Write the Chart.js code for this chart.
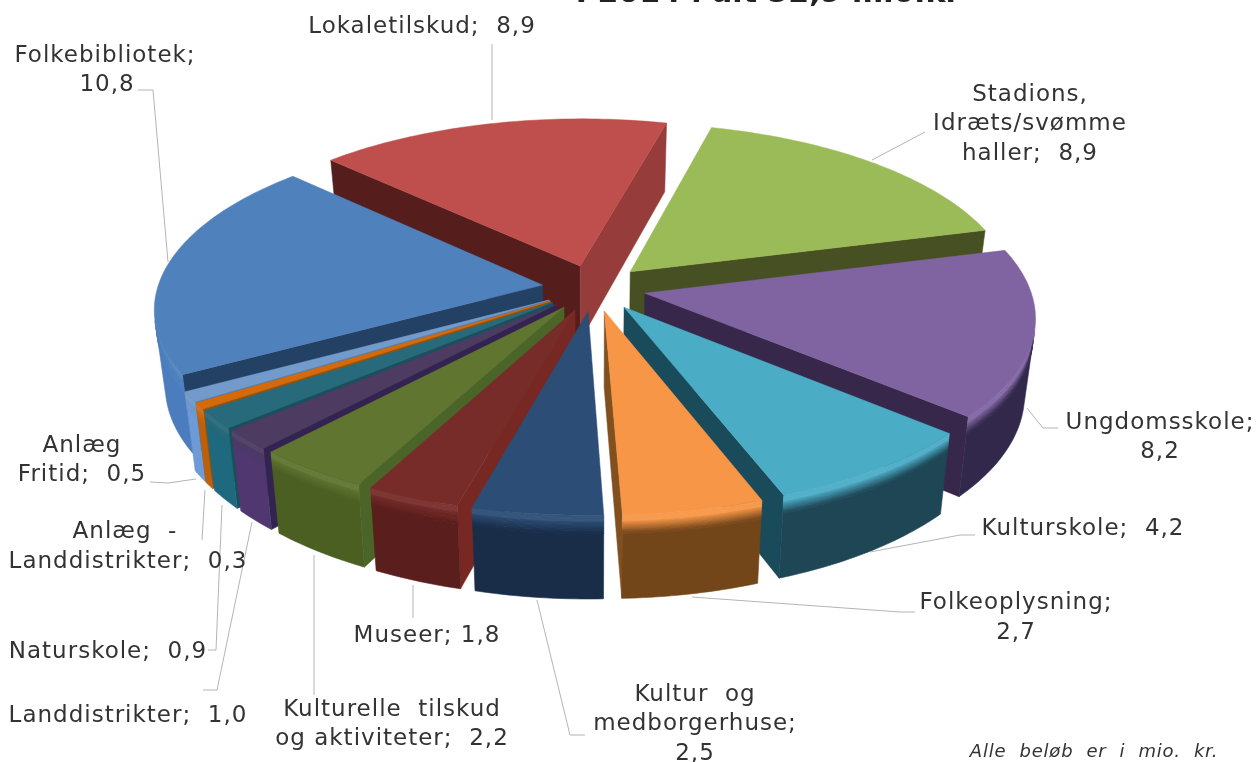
<!DOCTYPE html>
<html><head><meta charset="utf-8">
<script src="https://cdn.jsdelivr.net/npm/chart.js@4"></script>
<style>html,body{margin:0;padding:0;background:#fff;overflow:hidden}canvas{display:block;filter:blur(0.4px)}</style>
</head><body><canvas id="c" width="1259" height="762"></canvas>
<script>
const categories = ["Lokaletilskud","Stadions, Idræts/svømme haller","Ungdomsskole","Kulturskole","Folkeoplysning","Kultur og medborgerhuse","Museer","Kulturelle tilskud og aktiviteter","Landdistrikter","Naturskole","Anlæg - Landdistrikter","Anlæg Fritid","Folkebibliotek"];
const values = [8.9,8.9,8.2,4.2,2.7,2.5,1.8,2.2,1.0,0.9,0.3,0.5,10.8];
const topColors = ["#BE4F4C","#9BBB59","#8064A2","#4BACC6","#F79646","#2C4D75","#772C2A","#5F7530","#4D3B62","#276A7C","#D56A0A","#729ACA","#4F81BD"];
const outerColors = ["#96403C","#4A5A25","#32284B","#1E4655","#73461A","#192D48","#5A1E1C","#4B5F23","#503770","#1E697D","#BE5F0A","#6E9BD7","#4B7DBE"];
const startWalls = ["#551E1C","#4A5A25","#32284B","#1E4655","#73461A","#192D48","#782823","#4B6428","#322350","#19505F","#965008","#5078AA","#234164"];
const endWalls = ["#963C3A","#465023","#37284B","#194B5A","#82501E","#192D48","#5A1E1C","#4B5F23","#322350","#19505F","#965008","#5078AA","#234164"];
const labelLines = [
  {t:"Lokaletilskud;  8,9",x:422,y:27},
  {t:"Folkebibliotek;",x:105,y:56},{t:"10,8",x:107,y:85},
  {t:"Stadions,",x:1030,y:95},{t:"Idræts/svømme",x:1030,y:124},{t:"haller;  8,9",x:1030,y:154},
  {t:"Ungdomsskole;",x:1160,y:423},{t:"8,2",x:1160,y:452},
  {t:"Kulturskole;  4,2",x:1083,y:529},
  {t:"Folkeoplysning;",x:1016,y:603},{t:"2,7",x:1016,y:633},
  {t:"Kultur  og",x:695,y:695},{t:"medborgerhuse;",x:695,y:724},{t:"2,5",x:695,y:754},
  {t:"Museer; 1,8",x:427,y:636},
  {t:"Kulturelle  tilskud",x:392,y:710},{t:"og aktiviteter;  2,2",x:392,y:739},
  {t:"Landdistrikter;  1,0",x:128,y:716},
  {t:"Naturskole;  0,9",x:108,y:652},
  {t:"Anlæg  -",x:125,y:532},{t:"Landdistrikter;  0,3",x:128,y:562},
  {t:"Anlæg",x:82,y:446},{t:"Fritid;  0,5",x:82,y:475}
];
const leaders = [
  [[492,44],[492,120]],
  [[153,90],[138,90]],[[153,90],[168,262]],
  [[925,132],[872,160]],
  [[1058,428],[1043,428],[1027,408]],
  [[975,535],[960,535],[870,552]],
  [[915,612],[900,612],[692,597]],
  [[585,735],[570,735],[537,600]],
  [[413,618],[413,585]],
  [[314,695],[314,555]],
  [[203,690],[217,690],[252,522]],
  [[208,650],[216,650],[222,505]],
  [[202,540],[205,490]],
  [[150,482],[168,483],[196,479]]
];
const titleText = "I 2014 i alt 52,9 mio.kr";
const footnote = "Alle  beløb  er  i  mio.  kr.";

const view = {cx:594, cy:288, R:385, explode:52, k:0.445, p:0.128, botX:0.975, botY:1.038, drop:75};
function project(X,Y){
  const s = 1/(1 - view.p*Y/view.R);
  return [view.cx + X*s, view.cy + view.k*Y*s];
}
function below(pt,t=1){
  return [view.cx+(pt[0]-view.cx)*(1+(view.botX-1)*t), view.cy+(pt[1]-view.cy)*(1+(view.botY-1)*t)+view.drop*t];
}
function area(q){let a=0;for(let i=0;i<q.length;i++){const u=q[i],v=q[(i+1)%q.length];a+=u[0]*v[1]-v[0]*u[1];}return a;}
function poly(ctx,q){ctx.beginPath();q.forEach((p,i)=>i?ctx.lineTo(p[0],p[1]):ctx.moveTo(p[0],p[1]));ctx.closePath();}
function rgb(h){return [parseInt(h.slice(1,3),16),parseInt(h.slice(3,5),16),parseInt(h.slice(5,7),16)];}
function mix(a,b,t){const A=rgb(a),B=rgb(b);return `rgb(${A.map((v,i)=>Math.round(v+(B[i]-v)*t)).join(",")})`;}
function rimColor(i,t){
  if(t<.07) return mix(topColors[i],"#ffffff",.05);
  return mix(topColors[i],outerColors[i],Math.min(1,(t-.07)/.15));
}

const pie3d = {
  id:'pie3d',
  beforeDatasetDraw(chart,args){
    const ctx = chart.ctx, meta = args.meta;
    const order = meta.data.map((el,i)=>({el,i,mid:Math.sin((el.startAngle+el.endAngle)/2)})).sort((a,b)=>a.mid-b.mid);
    order.forEach(({el,i})=>{
      const a1=el.startAngle,a2=el.endAngle,mid=(a1+a2)/2;
      const ax=view.explode*Math.cos(mid),ay=view.explode*Math.sin(mid);
      const rim=a=>project(ax+view.R*Math.cos(a),ay+view.R*Math.sin(a));
      const apex=project(ax,ay), apexB=below(apex);
      const steps=Math.max(2,Math.ceil((a2-a1)/(Math.PI/180)));
      const pts=[];for(let s=0;s<=steps;s++)pts.push(rim(a1+(a2-a1)*s/steps));
      const sq=[apex,pts[0],below(pts[0]),apexB];
      if(area(sq)<0){poly(ctx,sq);ctx.fillStyle=startWalls[i];ctx.fill();ctx.strokeStyle=startWalls[i];ctx.lineWidth=.5;ctx.stroke();}
      const eq=[apex,pts[steps],below(pts[steps]),apexB];
      if(area(eq)>0){poly(ctx,eq);ctx.fillStyle=endWalls[i];ctx.fill();ctx.strokeStyle=endWalls[i];ctx.lineWidth=.5;ctx.stroke();}
      const vis=[];
      for(let s=0;s<steps;s++){
        const p=pts[s],q=pts[s+1];
        if(area([p,q,below(q),below(p)])<0){ if(!vis.length) vis.push(p); vis.push(q); }
      }
      if(vis.length>1){
        const strip=(t0,t1,c)=>{
          poly(ctx,[...vis.map(p=>below(p,t0)),...vis.slice().reverse().map(p=>below(p,t1))]);
          ctx.fillStyle=c;ctx.strokeStyle=c;ctx.lineWidth=.6;ctx.fill();ctx.stroke();
        };
        strip(.22,1,outerColors[i]);
        for(let n=0;n<11;n++){ strip(n*.02,(n+1)*.02+.005,rimColor(i,n*.02+.01)); }
      }
      poly(ctx,[apex,...pts]);
      ctx.fillStyle=topColors[i];ctx.fill();
      ctx.strokeStyle=topColors[i];ctx.lineWidth=.5;ctx.stroke();
    });
    return false;
  },
  afterDraw(chart){
    const ctx=chart.ctx;
    ctx.save();
    ctx.strokeStyle="#b4b4b4";ctx.lineWidth=1;
    leaders.forEach(l=>{ctx.beginPath();l.forEach((p,i)=>i?ctx.lineTo(p[0],p[1]):ctx.moveTo(p[0],p[1]));ctx.stroke();});
    ctx.fillStyle="#333";ctx.textAlign="center";ctx.textBaseline="middle";
    ctx.font='23px "DejaVu Sans"';ctx.letterSpacing="1px";
    labelLines.forEach(l=>ctx.fillText(l.t,l.x,l.y));
    ctx.font='italic 18px "DejaVu Sans"';ctx.letterSpacing="0.8px";
    ctx.fillText(footnote,1094,752);
    ctx.font='bold 30px "DejaVu Sans"';ctx.letterSpacing="0px";ctx.fillStyle="#222";ctx.textBaseline="alphabetic";
    ctx.fillText(titleText,768,2);
    ctx.restore();
  }
};
new Chart(document.getElementById('c'),{
  type:'pie',
  data:{labels:categories,datasets:[{data:values,backgroundColor:topColors,borderWidth:0}]},
  options:{responsive:false,animation:false,rotation:-46,events:[],plugins:{legend:{display:false},tooltip:{enabled:false},title:{display:false}}},
  plugins:[pie3d]
});
</script></body></html>
